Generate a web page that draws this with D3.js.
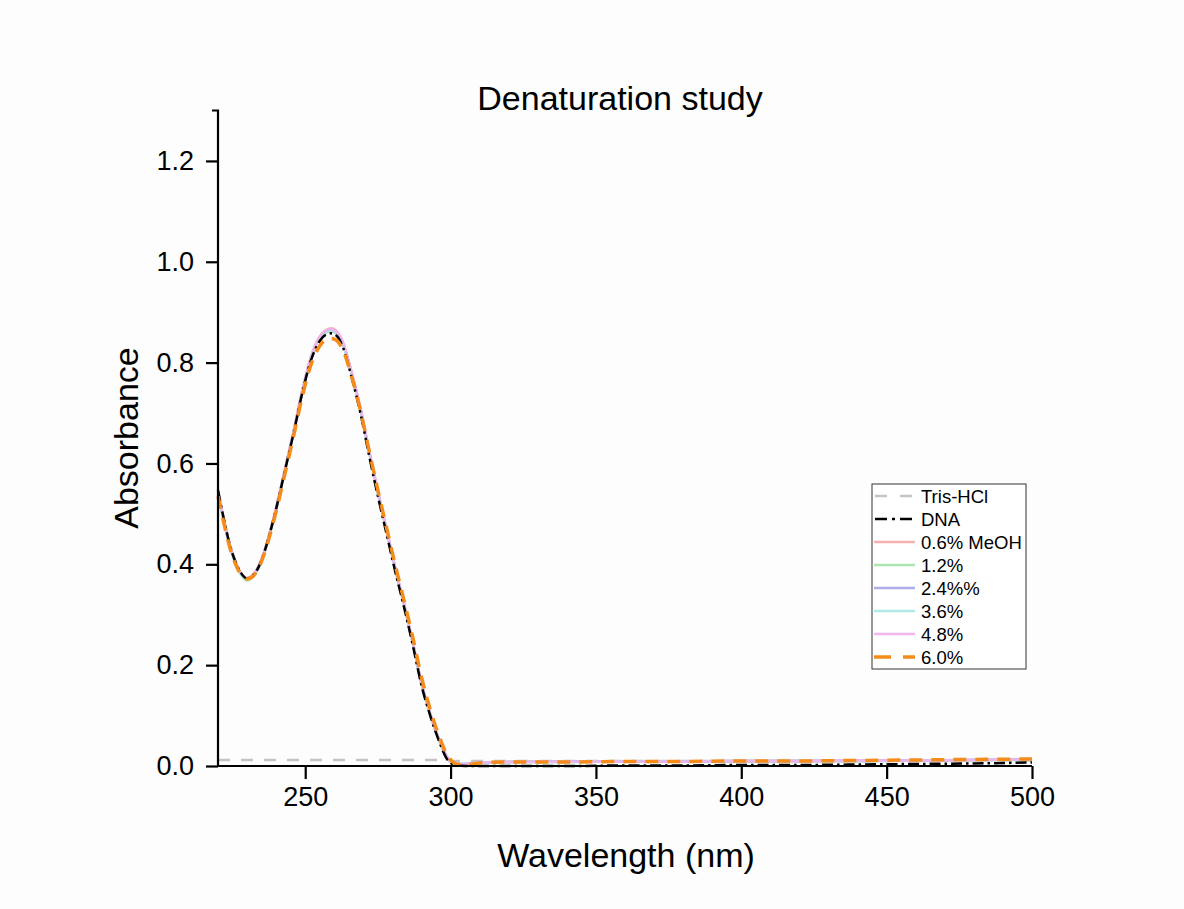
<!DOCTYPE html>
<html><head><meta charset="utf-8">
<script src="https://cdn.jsdelivr.net/npm/d3@7"></script>
<style>body{margin:0;background:#fff}svg{display:block}text{font-family:"Liberation Sans",Arial,sans-serif;fill:#000}</style>
</head><body>
<script>
const wavelengths = [220,222,224,226,228,230,232,234,236,238,240,243,246,249,252,255,257,259,261,263,266,269,272,275,278,281,284,287,290,293,296,299,302,305,310,320,340,360,380,400,420,440,460,480,500];
const trisHCl = [0.012,0.012,0.012,0.012,0.012,0.012,0.012,0.012,0.012,0.012,0.012,0.012,0.012,0.012,0.012,0.012,0.012,0.012,0.012,0.012,0.012,0.012,0.012,0.012,0.012,0.012,0.012,0.012,0.012,0.012,0.012,0.011,0.010,0.010,0.010,0.010,0.010,0.010,0.010,0.010,0.010,0.010,0.010,0.011,0.011];
const dna = [0.547,0.49,0.44,0.405,0.382,0.372,0.378,0.395,0.425,0.465,0.51,0.585,0.66,0.74,0.805,0.843,0.855,0.858,0.852,0.83,0.77,0.70,0.615,0.535,0.46,0.385,0.315,0.24,0.16,0.10,0.05,0.012,0.001,0.0,0.0,0.0,0.0,0.001,0.001,0.002,0.002,0.003,0.004,0.005,0.007];
const meoh06 = [0.545,0.49,0.44,0.405,0.382,0.373,0.379,0.397,0.427,0.467,0.512,0.588,0.664,0.745,0.812,0.852,0.864,0.868,0.861,0.84,0.78,0.71,0.625,0.545,0.468,0.392,0.322,0.246,0.165,0.104,0.054,0.016,0.004,0.004,0.007,0.008,0.009,0.009,0.009,0.010,0.010,0.011,0.011,0.012,0.013];
const meoh12 = [0.54,0.485,0.436,0.401,0.378,0.368,0.375,0.393,0.423,0.463,0.508,0.584,0.660,0.741,0.808,0.848,0.859,0.862,0.856,0.835,0.776,0.706,0.621,0.541,0.465,0.389,0.319,0.243,0.162,0.101,0.052,0.015,0.003,0.004,0.007,0.008,0.008,0.009,0.009,0.009,0.010,0.010,0.011,0.012,0.012];
const meoh24 = [0.543,0.488,0.439,0.404,0.381,0.372,0.378,0.396,0.426,0.466,0.511,0.587,0.663,0.744,0.81,0.85,0.862,0.865,0.859,0.838,0.779,0.709,0.624,0.544,0.468,0.392,0.321,0.245,0.164,0.103,0.053,0.016,0.004,0.004,0.007,0.008,0.009,0.009,0.009,0.010,0.010,0.010,0.011,0.012,0.013];
const meoh36 = [0.542,0.487,0.438,0.403,0.38,0.371,0.377,0.395,0.425,0.465,0.51,0.586,0.662,0.743,0.809,0.849,0.860,0.863,0.857,0.836,0.777,0.707,0.622,0.542,0.466,0.390,0.320,0.244,0.163,0.102,0.052,0.015,0.004,0.004,0.007,0.008,0.008,0.009,0.009,0.010,0.010,0.010,0.011,0.012,0.012];
const meoh48 = [0.544,0.489,0.44,0.405,0.382,0.373,0.379,0.397,0.427,0.467,0.512,0.588,0.664,0.745,0.811,0.851,0.863,0.866,0.860,0.839,0.779,0.709,0.624,0.544,0.467,0.391,0.321,0.245,0.164,0.103,0.053,0.016,0.004,0.004,0.007,0.008,0.009,0.009,0.009,0.010,0.010,0.011,0.011,0.012,0.013];
const meoh60 = [0.535,0.482,0.435,0.401,0.379,0.371,0.376,0.393,0.422,0.461,0.505,0.579,0.654,0.733,0.796,0.833,0.845,0.848,0.843,0.825,0.772,0.705,0.625,0.547,0.472,0.398,0.328,0.255,0.176,0.112,0.060,0.020,0.004,0.002,0.006,0.008,0.008,0.009,0.009,0.010,0.010,0.011,0.012,0.013,0.014];
const seriesNames = ["Tris-HCl","DNA","0.6% MeOH","1.2%","2.4%%","3.6%","4.8%","6.0%"];
const seriesValues = [trisHCl,dna,meoh06,meoh12,meoh24,meoh36,meoh48,meoh60];
const xTicks = [250,300,350,400,450,500];
const yTicks = [0.0,0.2,0.4,0.6,0.8,1.0,1.2];

const styles = [
  {color:"#c4c4c4", width:2.5, dash:"12,11", opacity:1},
  {color:"#000000", width:2.5, dash:"11,4,2.5,4", opacity:1},
  {color:"#f7a8a8", width:2.5, dash:null, opacity:0.9},
  {color:"#a6e2a6", width:2.5, dash:null, opacity:0.9},
  {color:"#a9a9e8", width:2.5, dash:null, opacity:0.95},
  {color:"#a9e6e6", width:2.5, dash:null, opacity:0.9},
  {color:"#f2b0ee", width:2.5, dash:null, opacity:0.9},
  {color:"#f58c1a", width:3.5, dash:"13,9", opacity:1}
];

const W=1184,H=909;
const svg=d3.select("body").append("svg").attr("width",W).attr("height",H);
svg.append("rect").attr("width",W).attr("height",H).attr("fill","#fdfdfd");

const x=d3.scaleLinear().domain([220,500]).range([218,1032]);
const y=d3.scaleLinear().domain([0,1.3]).range([766,110.5]);

const order=[0,2,3,4,5,6,1,7];
const plot=svg.append("g");
order.forEach(i=>{
  const st=styles[i];
  const data=wavelengths.map((w,k)=>[w,seriesValues[i][k]]);
  const line=d3.line().x(d=>x(d[0])).y(d=>y(d[1])).curve(d3.curveMonotoneX);
  const p=plot.append("path").attr("d",line(data)).attr("fill","none")
    .attr("stroke",st.color).attr("stroke-width",st.width).attr("opacity",st.opacity)
    .attr("stroke-linejoin","round");
  if(st.dash) p.attr("stroke-dasharray",st.dash);
});

const tickFont="27px";
const xMinor=d3.range(225,501,25).filter(v=>!xTicks.includes(v));
const xAx=svg.append("g").attr("transform","translate(0,766)");
xAx.call(d3.axisBottom(x).tickValues(xMinor).tickSize(7).tickFormat(""));
xAx.call(d3.axisBottom(x).tickValues(xTicks).tickSize(13).tickPadding(8).tickFormat(d3.format("d")));
xAx.selectAll("path.domain").attr("stroke","#000").attr("stroke-width",2.2).attr("d","M218,0H1032");
xAx.selectAll("line").attr("stroke","#000").attr("stroke-width",2.2);
xAx.selectAll("text").style("font-size",tickFont).attr("fill","#000");

const yMinor=d3.range(0.1,1.3,0.2);
const yAx=svg.append("g").attr("transform","translate(218,0)");
yAx.call(d3.axisLeft(y).tickValues(yMinor).tickSize(6).tickFormat(""));
yAx.call(d3.axisLeft(y).tickValues(yTicks).tickSize(12).tickPadding(12).tickFormat(d3.format(".1f")));
yAx.selectAll("path.domain").attr("stroke","#000").attr("stroke-width",2.2).attr("d","M0,766V110.5H-6");
yAx.selectAll("line").attr("stroke","#000").attr("stroke-width",2.2);
yAx.selectAll("text").style("font-size",tickFont).attr("fill","#000");

svg.append("text").attr("x",620).attr("y",110).attr("text-anchor","middle").style("font-size","34px").text("Denaturation study");
svg.append("text").attr("x",626).attr("y",867).attr("text-anchor","middle").style("font-size","34px").text("Wavelength (nm)");
svg.append("text").attr("transform","translate(138,438) rotate(-90)").attr("text-anchor","middle").style("font-size","34px").text("Absorbance");

const lg=svg.append("g");
lg.append("rect").attr("x",872).attr("y",484).attr("width",154).attr("height",185)
  .attr("fill","#fff").attr("stroke","#333").attr("stroke-width",1);
seriesNames.forEach((nm,i)=>{
  const st=styles[i];
  const yy=496+i*23;
  const l=lg.append("line").attr("x1",874).attr("x2",915).attr("y1",yy).attr("y2",yy)
    .attr("stroke",st.color).attr("stroke-width",st.width).attr("opacity",st.opacity);
  if(i===0) l.attr("stroke-dasharray","12,13").attr("x1",875);
  if(i===1) l.attr("stroke-dasharray","12,5,3,5").attr("x1",875);
  if(i===7) l.attr("stroke-dasharray","17,12");
  lg.append("text").attr("x",921).attr("y",yy+6.5).style("font-size","18.5px").text(nm);
});
</script>
</body></html>
